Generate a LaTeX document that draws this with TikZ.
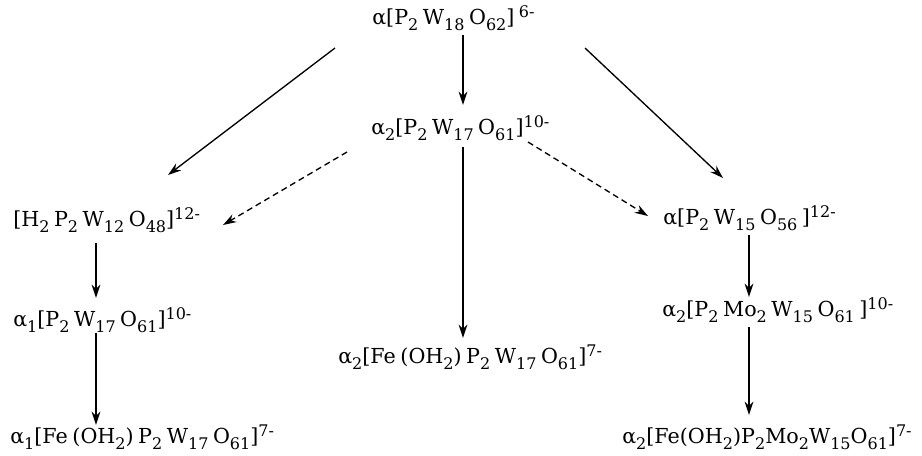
\documentclass[tikz,border=0pt]{standalone}
\usepackage{fontspec}
\setmainfont{DejaVu Serif}
\usepackage{tikz}
\usetikzlibrary{arrows.meta,calc}
\newcommand{\sbs}[1]{\raisebox{-4pt}{\fontsize{12}{14}\selectfont #1}}
\newcommand{\chg}[1]{\raisebox{5.5pt}{\fontsize{12}{14}\selectfont #1}}
\newcommand{\gp}{\hspace{0.22em}}
\tikzset{
  chem/.style={anchor=west,inner sep=0pt,font=\fontsize{15.5}{18}\selectfont},
  ar/.style={-{Stealth[length=10pt,width=6.5pt]},line width=1pt},
  ard/.style={ar,dash pattern=on 4.5pt off 3pt},
}

\begin{document}
\begin{tikzpicture}[x=0.75pt,y=-0.75pt]
  \path[fill=white,use as bounding box] (0,0) rectangle (922,455);
  % species
  \node[chem] (top) at (372,18) {α[P\sbs{2}\gp W\sbs{18}\gp O\sbs{62}]\gp\chg{6-}};
  \node[chem] (mid) at (371,128) {α\sbs{2}[P\sbs{2}\gp W\sbs{17}\gp O\sbs{61}]\chg{10-}};
  \node[chem] (h2p) at (13,220) {[H\sbs{2}\gp P\sbs{2}\gp W\sbs{12}\gp O\sbs{48}]\chg{12-}};
  \node[chem] (aone) at (13,320) {α\sbs{1}[P\sbs{2}\gp W\sbs{17}\gp O\sbs{61}]\chg{10-}};
  \node[chem] (feone) at (10,437) {α\sbs{1}[Fe\gp(OH\sbs{2})\gp P\sbs{2}\gp W\sbs{17}\gp O\sbs{61}]\chg{7-}};
  \node[chem] (fetwo) at (338,357) {α\sbs{2}[Fe\gp(OH\sbs{2})\gp P\sbs{2}\gp W\sbs{17}\gp O\sbs{61}]\chg{7-}};
  \node[chem] (wfif) at (663,218) {α[P\sbs{2}\gp W\sbs{15}\gp O\sbs{56}\gp]\chg{12-}};
  \node[chem] (motwo) at (662,310) {α\sbs{2}[P\sbs{2}\gp Mo\sbs{2}\gp W\sbs{15}\gp O\sbs{61}\gp]\chg{10-}};
  \node[chem] (femo) at (622,437) {α\sbs{2}[Fe(OH\sbs{2})P\sbs{2}Mo\sbs{2}W\sbs{15}O\sbs{61}]\chg{7-}};
  % reactions
  \draw[ar] ($(top.west)+(91,17)$) -- ($(mid.west)+(92,-23)$);
  \draw[ar] ($(mid.west)+(92,19)$) -- ($(fetwo.west)+(125,-19)$);
  \draw[ar] ($(top.west)+(-37,30)$) -- ($(h2p.west)+(155,-45)$);
  \draw[ard] ($(mid.west)+(-24,24)$) -- ($(h2p.west)+(210,5)$);
  \draw[ar] ($(top.west)+(213,30)$) -- ($(wfif.west)+(60,-40)$);
  \draw[ard] ($(mid.west)+(157,14)$) -- ($(wfif.west)+(-15,-2)$);
  \draw[ar] ($(h2p.west)+(83,23)$) -- ($(aone.west)+(83,-22)$);
  \draw[ar] ($(aone.west)+(83,13)$) -- ($(feone.west)+(86,-12)$);
  \draw[ar] ($(wfif.west)+(86,17)$) -- ($(motwo.west)+(87,-13)$);
  \draw[ar] ($(motwo.west)+(87,17)$) -- ($(femo.west)+(127,-22)$);
\end{tikzpicture}
\end{document}
